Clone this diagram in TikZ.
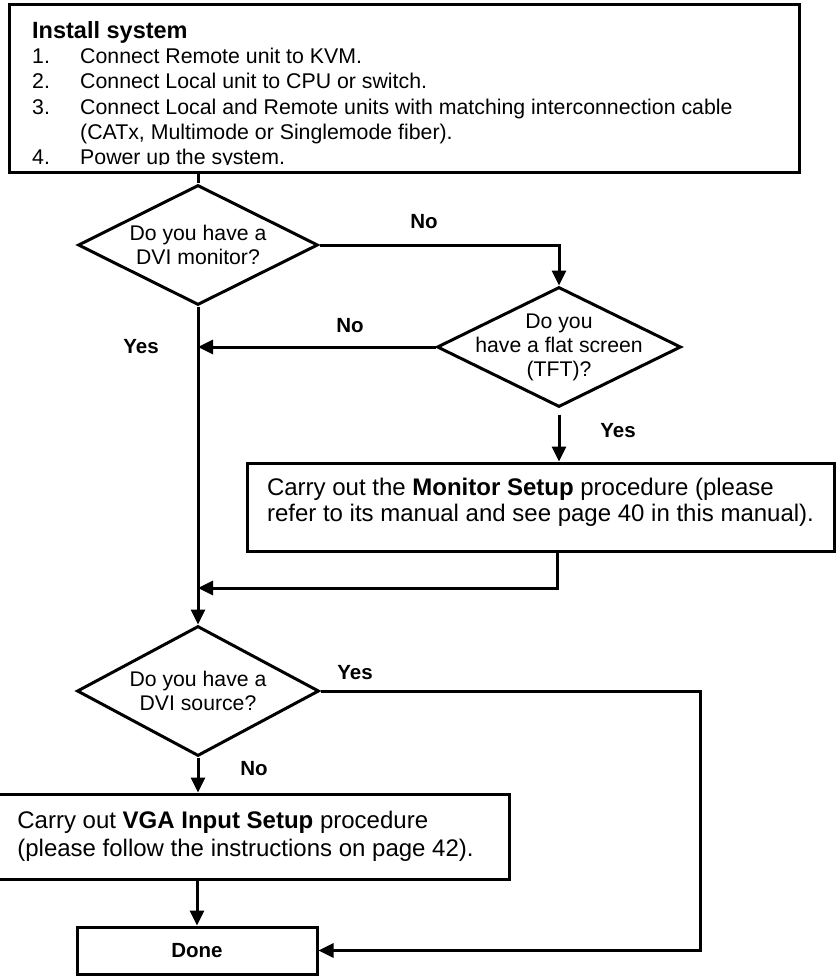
\documentclass[tikz,border=0pt]{standalone}
\usepackage{fontspec}
\setmainfont{Liberation Sans}
\usetikzlibrary{shapes.geometric,arrows.meta}

\tikzset{
	box/.style={draw, rectangle, line width=3pt, inner sep=0pt},
	ask/.style={draw, diamond, aspect=2, line width=3pt, inner sep=0pt},
	qtext/.style={align=center, inner sep=0pt, font=\fontsize{21.2}{24}\selectfont},
	ptext/.style={align=left, inner sep=0pt, font=\fontsize{24}{26}\selectfont},
	inst/.style={anchor=base west, inner sep=0pt, font=\fontsize{21.3}{24}\selectfont},
	lbl/.style={anchor=base, inner sep=0pt, font=\fontsize{20.5}{24}\selectfont\bfseries},
	ln/.style={line width=3pt},
	arr/.style={line width=3pt, -{Triangle[length=15pt,width=14pt]}}
}

\begin{document}
\begin{tikzpicture}[x=1pt,y=-1pt]
\useasboundingbox (0,0) rectangle (835,976);
\path (404,89) node[box, minimum width=790pt, minimum height=168pt] (install) {}
		(198,245) node[ask, minimum width=240pt, minimum height=120pt] (dvimon) {}
		(559,347) node[ask, minimum width=244pt, minimum height=120pt] (tft) {}
		(540.5,507) node[box, ptext, minimum width=587pt, minimum height=88pt, text depth=15pt] (monset)
			{Carry out the \textbf{Monitor Setup} procedure (please\\refer to its manual and see page 40 in this manual).}
		(198,691) node[ask, minimum width=242pt, minimum height=130pt] (dvisrc) {}
		(245.5,836.5) node[box, ptext, font=\fontsize{24}{28}\selectfont, minimum width=527pt, minimum height=85pt] (vga)
			{Carry out \textbf{VGA Input Setup} procedure\\(please follow the instructions on page 42).}
		(197,950.5) node[box, minimum width=240pt, minimum height=47pt, font=\fontsize{20.5}{24}\selectfont\bfseries] (done) {Done}
		;
\path (dvimon) node[qtext] (dvimon-t) {Do you have a\\DVI monitor?}
		(tft) node[qtext] (tft-t) {Do you\\have a flat screen\\(TFT)?}
		(dvisrc) node[qtext] (dvisrc-t) {Do you have a\\DVI source?};
\begin{scope}
	\clip (9,5) rectangle (799,165);
	\path (32,39) node[inst, font=\fontsize{23.5}{24}\selectfont\bfseries] (title) {Install system}
		(32,63.5) node[inst] (n1) {1.}		(80,63.5) node[inst] (s1) {Connect Remote unit to KVM.}
		(32,88.8) node[inst] (n2) {2.}		(80,88.8) node[inst] (s2) {Connect Local unit to CPU or switch.}
		(32,114.1) node[inst] (n3) {3.}		(80,114.1) node[inst] (s3) {Connect Local and Remote units with matching interconnection cable}
		(80,139.4) node[inst] (s3b) {(CATx, Multimode or Singlemode fiber).}
		(32,164.7) node[inst] (n4) {4.}		(80,164.7) node[inst] (s4) {Power up the system.};
\end{scope}
\path (424,229) node[lbl] (no1) {No}
		(350,332) node[lbl] (no2) {No}
		(141,353) node[lbl] (yes1) {Yes}
		(618,437) node[lbl] (yes2) {Yes}
		(355,679) node[lbl] (yes3) {Yes}
		(254,775) node[lbl] (no3) {No};
\draw[ln] (dvimon.north |- install.south) -- (dvimon.north);
\draw[arr] (dvimon.east) -| (tft.north);
\draw[arr] (tft.west) -- (tft.west -| dvimon.south);
\draw[arr, shorten <=6pt] (tft.south) -- (tft.south |- monset.north);
\draw[arr] ([xshift=-2pt]tft.south |- monset.south) |- (dvimon.south |- 0,588);
\draw[arr] (dvimon.south) -- (dvisrc.north);
\draw[arr] (dvisrc.south) -- (dvisrc.south |- vga.north);
\draw[arr] (done.north |- vga.south) -- (done.north);
\draw[arr] (dvisrc.east) -| ([xshift=382pt]done.east) -- (done.east);
\end{tikzpicture}
\end{document}
